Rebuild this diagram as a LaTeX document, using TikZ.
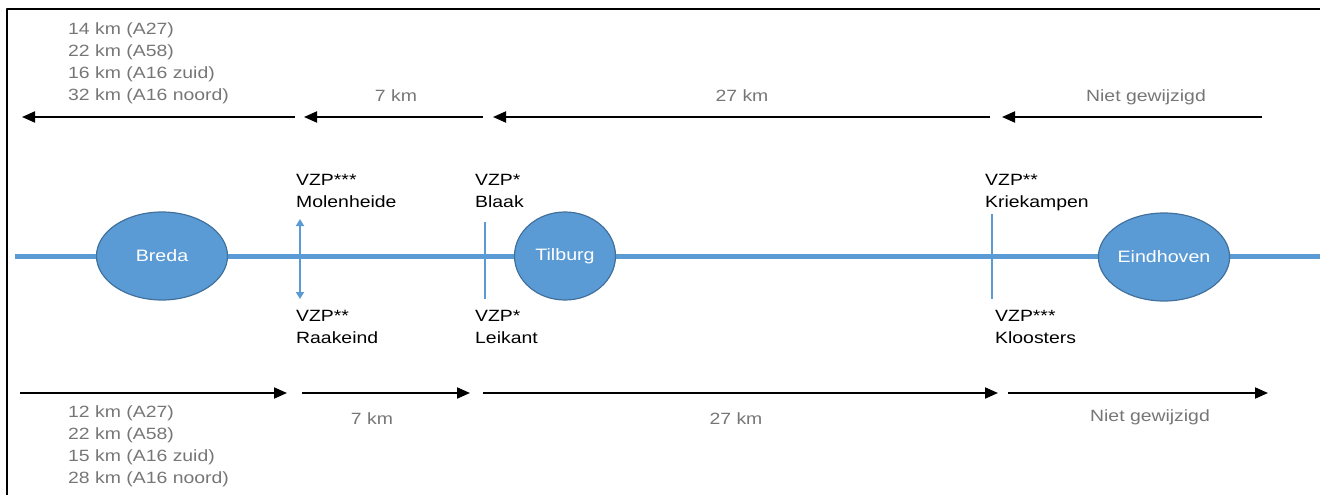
\documentclass[tikz,border=0pt]{standalone}
\usepackage{fontspec}
\setmainfont{Liberation Sans}[FakeStretch=1.19]
\usetikzlibrary{arrows.meta,shapes.geometric}

\begin{document}
\begin{tikzpicture}[x=1pt, y=-1pt, line join=round,
    city/.style={ellipse, fill=roadblue, draw=cityborder, line width=1.2pt,
        text=white, font=\fontsize{16.5}{20}\selectfont, inner sep=0pt,
        minimum height=88pt},
    kmlabel/.style={text=kmgray, font=\fontsize{16.3}{22.2}\selectfont,
        align=left, inner sep=0pt},
    vzplabel/.style={font=\fontsize{16.3}{22.5}\selectfont, align=left,
        anchor=north west, inner sep=0pt},
    dist/.style={-{Triangle[length=13pt,width=11pt]}, line width=1.9pt},
    exitline/.style={roadblue, line width=2.4pt},
  ]

    % --- Colors ---
    \definecolor{roadblue}{RGB}{91, 155, 213}
    \definecolor{cityborder}{RGB}{65, 113, 156}
    \definecolor{kmgray}{RGB}{118, 118, 118}

    \useasboundingbox (0,0) rectangle (1320,495);

    % --- Frame (cut off at right and bottom) ---
    \draw[line width=2pt] (7,495) -- (7,9) -- (1320,9);

    % --- Coordinates ---
    \coordinate (roadW) at (15,256);
    \coordinate (roadE) at (1320,256);

    % exits
    \coordinate (molN) at (300,219);
    \coordinate (molS) at (300,299);
    \coordinate (blaakN) at (485,222);
    \coordinate (blaakS) at (485,299);
    \coordinate (kriekN) at (992,214);
    \coordinate (kriekS) at (992,299);

    % distance arrows towards Breda (top)
    \coordinate (w1-s) at (295,117);   \coordinate (w1-e) at (22,117);
    \coordinate (w2-s) at (483,117);   \coordinate (w2-e) at (304,117);
    \coordinate (w3-s) at (990,117);   \coordinate (w3-e) at (493,117);
    \coordinate (w4-s) at (1262,117);  \coordinate (w4-e) at (1002,117);

    % distance arrows towards Eindhoven (bottom)
    \coordinate (e1-s) at (20,393);    \coordinate (e1-e) at (287,393);
    \coordinate (e2-s) at (302,393);   \coordinate (e2-e) at (470,393);
    \coordinate (e3-s) at (483,393);   \coordinate (e3-e) at (998,393);
    \coordinate (e4-s) at (1008,393);  \coordinate (e4-e) at (1268,393);

    % --- 1. Road ---
    \draw[roadblue, line width=5pt] (roadW) -- (roadE);

    % --- 2. Exits ---
    \draw[exitline, {Triangle[length=7pt,width=8pt]}-{Triangle[length=7pt,width=8pt]}] (molN) -- (molS);
    \draw[exitline] (blaakN) -- (blaakS);
    \draw[exitline] (kriekN) -- (kriekS);

    % --- 3. Cities ---
    \node[city, minimum width=131pt] (breda) at (162,256) {Breda};
    \node[city, minimum width=101pt] (tilburg) at (565,256) {Tilburg};
    \node[city, minimum width=128pt] (eindhoven) at (1164,257) {Eindhoven};

    % --- 4. Distance arrows ---
    \foreach \i in {1,...,4} {
        \draw[dist] (w\i-s) -- (w\i-e);
        \draw[dist] (e\i-s) -- (e\i-e);
    }

    % --- 5. Labels ---
    % top row
    \node[kmlabel, anchor=north west] (kmW1) at (68,22)
        {14 km (A27)\\22 km (A58)\\16 km (A16 zuid)\\32 km (A16 noord)};
    \node[kmlabel, anchor=base] (kmW2) at (396,101) {7 km};
    \node[kmlabel, anchor=base] (kmW3) at (742,101) {27 km};
    \node[kmlabel, anchor=base] (kmW4) at (1146,101) {Niet gewijzigd};

    % bottom row
    \node[kmlabel, anchor=north west] (kmE1) at (68,405)
        {12 km (A27)\\22 km (A58)\\15 km (A16 zuid)\\28 km (A16 noord)};
    \node[kmlabel, anchor=base] (kmE2) at (372,424) {7 km};
    \node[kmlabel, anchor=base] (kmE3) at (736,424) {27 km};
    \node[kmlabel, anchor=base] (kmE4) at (1150,421) {Niet gewijzigd};

    % parking places
    \node[vzplabel] (lmolen) at (296,174) {VZP***\\Molenheide};
    \node[vzplabel] (lraak) at (296,310) {VZP**\\Raakeind};
    \node[vzplabel] (lblaak) at (475,174) {VZP*\\Blaak};
    \node[vzplabel] (lleik) at (475,310) {VZP*\\Leikant};
    \node[vzplabel] (lkriek) at (985,174) {VZP**\\Kriekampen};
    \node[vzplabel] (lkloost) at (995,310) {VZP***\\Kloosters};

\end{tikzpicture}
\end{document}
